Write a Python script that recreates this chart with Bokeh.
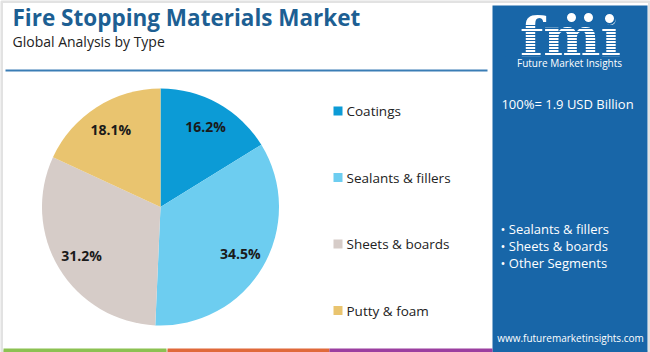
import math
from bokeh.plotting import figure
from bokeh.models import Range1d, ColumnDataSource
from bokeh.core.properties import value
from bokeh.embed import file_html
from bokeh.resources import INLINE

# ---- data ----
categories = ["Coatings", "Sealants & fillers", "Sheets & boards", "Putty & foam"]
shares = [16.2, 34.5, 31.2, 18.1]
slice_colors = ["#0c9bd6", "#6dcdf0", "#d6ccc8", "#e9c46f"]
title_text = "Fire Stopping Materials Market"
subtitle_text = "Global Analysis by Type"
total_text = "100%= 1.9 USD Billion"
bullets = ["Sealants & fillers", "Sheets & boards", "Other Segments"]
url_text = "www.futuremarketinsights.com"

W, H = 650, 352
FONT = "Open Sans"


def Y(y):
    return H - y


p = figure(width=W, height=H, x_range=Range1d(0, W), y_range=Range1d(0, H),
           output_backend="svg", toolbar_location=None, min_border=0,
           outline_line_color=None, background_fill_color="white",
           border_fill_color="white")
p.axis.visible = False
p.grid.visible = False

# outer light border
p.rect(x=[W / 2], y=[H / 2], width=[W - 2], height=[H - 2], fill_color=None,
       line_color="#e2e2e2", line_width=3)

# title
p.text(x=[12], y=[Y(17)], text=[title_text], text_font=value(FONT),
       text_font_style="bold", text_font_size="22.5px", text_color="#1d5f93",
       text_baseline="middle")
p.text(x=[12], y=[Y(41)], text=[subtitle_text], text_font=value(FONT),
       text_font_size="14px", text_color="#222222", text_baseline="middle")
p.segment(x0=[5], y0=[Y(70)], x1=[487], y1=[Y(70)], line_color="#3a7db5",
          line_width=2)

# pie
cx, cy, R = 160, Y(206.5), 118.5
total = sum(shares)
starts, ends, lx, ly, labels = [], [], [], [], []
acc = 0.0
for s in shares:
    a0 = math.pi / 2 - 2 * math.pi * acc / total
    a1 = math.pi / 2 - 2 * math.pi * (acc + s) / total
    starts.append(a0)
    ends.append(a1)
    mid = (a0 + a1) / 2
    lx.append(cx + 0.78 * R * math.cos(mid))
    ly.append(cy + 0.78 * R * math.sin(mid))
    labels.append(f"{s:.1f}%")
    acc += s

src = ColumnDataSource(dict(start=starts, end=ends, color=slice_colors))
p.wedge(x=cx, y=cy, radius=R, start_angle="start", end_angle="end",
        direction="clock", fill_color="color", line_color=None, source=src)
p.text(x=lx, y=ly, text=labels, text_font=value(FONT), text_font_style="bold",
       text_font_size="14px", text_color="#1a1a1a", text_align="center",
       text_baseline="middle")

# legend
leg_y = [110.5, 177, 243.5, 310]
p.rect(x=[337.5] * 4, y=[Y(v) for v in leg_y], width=9, height=9,
       fill_color=slice_colors, line_color=None)
p.text(x=[346] * 4, y=[Y(v) for v in leg_y], text=categories,
       text_font=value(FONT), text_font_size="13.5px", text_color="#222222",
       text_baseline="middle")

# right panel
p.quad(left=[492], right=[647], top=[Y(5)], bottom=[0], fill_color="#1866a8",
       line_color=None)
# logo
p.text(x=[570], y=[Y(36)], text=["fmi"], text_font=value("DejaVu Serif"),
       text_font_style="bold", text_font_size="54px", text_color="white",
       text_align="center", text_baseline="middle")
p.circle(x=[571, 588, 609], y=[Y(17), Y(17), Y(18)], radius=5.5,
         fill_color="white", line_color="#1866a8", line_width=2)
for i in range(11):
    yy = 25 + i * 3.0
    p.segment(x0=[512], y0=[Y(yy)], x1=[630], y1=[Y(yy)], line_color="#1866a8",
              line_width=1)
p.quad(left=[505], right=[640], top=[Y(56)], bottom=[Y(70)],
       fill_color="#1866a8", line_color=None)
p.text(x=[569], y=[Y(62)], text=["Future Market Insights"], text_font=value(FONT),
       text_font_size="10px", text_color="white", text_align="center",
       text_baseline="middle")
p.text(x=[567], y=[Y(103)], text=[total_text], text_font=value(FONT),
       text_font_size="13px", text_color="white", text_align="center",
       text_baseline="middle")
p.text(x=[500] * 3, y=[Y(228), Y(245), Y(262)], text=["• " + b for b in bullets],
       text_font=value(FONT), text_font_size="13px", text_color="white",
       text_baseline="middle")
p.text(x=[570], y=[Y(337)], text=[url_text], text_font=value(FONT),
       text_font_size="10px", text_color="white", text_align="center",
       text_baseline="middle")

# bottom colour bars
p.quad(left=[3, 167, 329], right=[166, 329, 492], top=[Y(348)] * 3,
       bottom=[0] * 3, fill_color=["#8cc152", "#e0693a", "#9b3fa0"],
       line_color=None)

open("out.html", "w").write(file_html(p, INLINE))
